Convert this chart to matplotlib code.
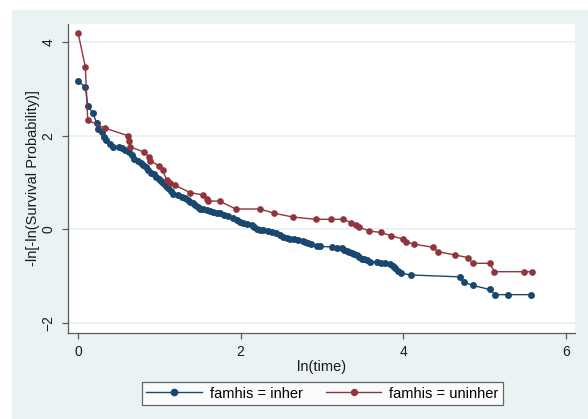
import matplotlib.pyplot as plt
from matplotlib.patches import Rectangle

plt.rcParams['font.family'] = ['Liberation Sans', 'DejaVu Sans']

# famhis = inher
inher_x = [0.00, 0.09, 0.12, 0.18, 0.23, 0.25, 0.29, 0.32, 0.35, 0.39, 0.43, 0.50,
           0.54, 0.58, 0.63, 0.66, 0.69, 0.74, 0.77, 0.80, 0.84, 0.86, 0.90, 0.93,
           0.96, 0.99, 1.02, 1.05, 1.08, 1.11, 1.14, 1.17, 1.23, 1.28, 1.32, 1.35,
           1.38, 1.41, 1.44, 1.48, 1.50, 1.54, 1.58, 1.62, 1.66, 1.71, 1.75, 1.80,
           1.85, 1.91, 1.96, 1.99, 2.03, 2.08, 2.14, 2.16, 2.20, 2.24, 2.28, 2.34,
           2.39, 2.44, 2.48, 2.52, 2.57, 2.61, 2.66, 2.71, 2.76, 2.79, 2.83, 2.87,
           2.94, 2.98, 3.12, 3.19, 3.24, 3.27, 3.31, 3.33, 3.37, 3.39, 3.43, 3.46,
           3.49, 3.52, 3.55, 3.59, 3.67, 3.73, 3.78, 3.84, 3.87, 3.90, 3.93, 3.97,
           4.09, 4.70, 4.74, 4.85, 5.06, 5.13, 5.29, 5.57]
inher_y = [3.16, 3.04, 2.63, 2.49, 2.27, 2.15, 2.08, 1.97, 1.90, 1.83, 1.76, 1.76,
           1.74, 1.70, 1.65, 1.58, 1.51, 1.46, 1.42, 1.37, 1.32, 1.26, 1.21, 1.17,
           1.12, 1.08, 1.03, 0.98, 0.92, 0.87, 0.81, 0.76, 0.73, 0.69, 0.66, 0.62,
           0.58, 0.55, 0.51, 0.47, 0.44, 0.42, 0.41, 0.39, 0.37, 0.35, 0.34, 0.31,
           0.28, 0.23, 0.19, 0.16, 0.14, 0.12, 0.09, 0.05, 0.01, -0.01, -0.02, -0.04,
           -0.06, -0.09, -0.13, -0.16, -0.19, -0.21, -0.22, -0.24, -0.26, -0.27, -0.29, -0.32,
           -0.37, -0.37, -0.38, -0.40, -0.41, -0.44, -0.47, -0.49, -0.52, -0.53, -0.56, -0.59,
           -0.63, -0.64, -0.66, -0.70, -0.70, -0.72, -0.73, -0.75, -0.79, -0.84, -0.90, -0.94,
           -0.98, -1.02, -1.13, -1.20, -1.29, -1.40, -1.40, -1.40]

# famhis = uninher
uninher_x = [0.00, 0.09, 0.12, 0.33, 0.61, 0.63, 0.64, 0.81, 0.87, 0.89, 1.00, 1.04,
             1.09, 1.13, 1.19, 1.38, 1.54, 1.58, 1.60, 1.74, 1.94, 2.24, 2.41, 2.64,
             2.92, 3.11, 3.26, 3.36, 3.42, 3.46, 3.58, 3.72, 3.85, 3.99, 4.03, 4.13,
             4.37, 4.42, 4.63, 4.80, 4.85, 5.06, 5.12, 5.48, 5.58]
uninher_y = [4.20, 3.47, 2.33, 2.16, 2.00, 1.89, 1.76, 1.65, 1.55, 1.46, 1.35, 1.26,
             1.05, 0.99, 0.94, 0.78, 0.73, 0.64, 0.60, 0.60, 0.43, 0.43, 0.34, 0.26,
             0.21, 0.21, 0.21, 0.14, 0.09, 0.04, -0.04, -0.07, -0.14, -0.21, -0.27, -0.32,
             -0.39, -0.48, -0.55, -0.61, -0.73, -0.73, -0.91, -0.91, -0.91]

navy = '#1a476f'
maroon = '#90353b'
bg = '#eaf2f3'
axcol = '#5a5a5a'

fig = plt.figure(figsize=(5.88, 4.19), dpi=100)
fig.patches.append(Rectangle((12 / 588, 0), 1, 1 - 10 / 419, transform=fig.transFigure,
                             facecolor=bg, edgecolor='none', zorder=-5))

ax = fig.add_axes([68 / 588, 1 - 333 / 419, 507 / 588, 309 / 419])
ax.set_facecolor('white')

ax.plot(inher_x, inher_y, color=navy, lw=1.0, marker='o', ms=5.0, mew=0,
        label='famhis = inher', zorder=3)
ax.plot(uninher_x, uninher_y, color=maroon, lw=1.0, marker='o', ms=4.8, mew=0,
        label='famhis = uninher', zorder=4)

ax.set_xlim(-0.123, 6.11)
ax.set_ylim(-2.22, 4.385)
ax.set_xticks([0, 2, 4, 6])
ax.set_yticks([-2, 0, 2, 4])
ax.yaxis.grid(True, color=bg, lw=1.4)
ax.set_axisbelow(True)

for s in ['top', 'right']:
    ax.spines[s].set_visible(False)
for s in ['left', 'bottom']:
    ax.spines[s].set_color(axcol)
    ax.spines[s].set_linewidth(0.9)

ax.tick_params(axis='both', direction='out', length=4, width=0.9, color=axcol,
               labelsize=10, pad=5, labelcolor='#1a1a1a')
for lab in ax.get_yticklabels():
    lab.set_rotation(90)
    lab.set_va('center')

ax.set_xlabel('ln(time)', fontsize=10.5, labelpad=0, color='#1a1a1a')
ax.set_ylabel('-ln[-ln(Survival Probability)]', fontsize=10.5, labelpad=1, color='#1a1a1a')

leg = fig.legend(loc='center', bbox_to_anchor=(322.5 / 588, 1 - 393.5 / 419), ncol=2,
                 fontsize=10.5, frameon=True, fancybox=False, handlelength=3.8,
                 handletextpad=0.55, columnspacing=1.6, borderpad=0.3, markerscale=1.1)
leg.get_frame().set_edgecolor('#404040')
leg.get_frame().set_linewidth(0.9)

fig.savefig('out.png', dpi=100)
